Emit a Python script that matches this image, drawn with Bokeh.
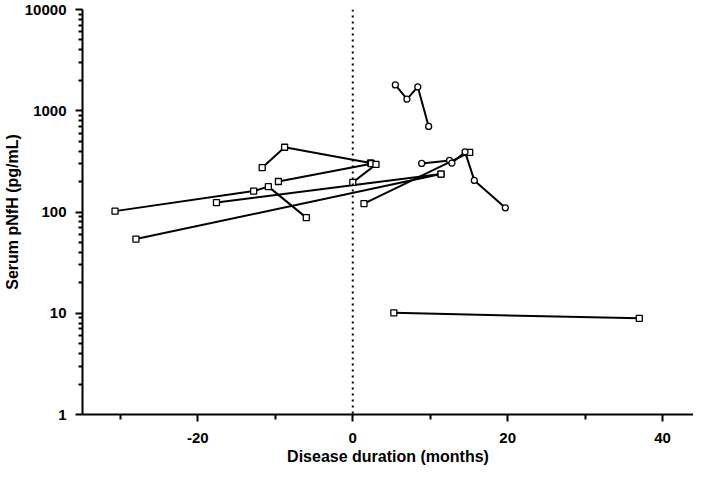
from bokeh.plotting import figure
from bokeh.models import FixedTicker, Span, ColumnDataSource, Range1d
from bokeh.embed import file_html
from bokeh.resources import INLINE

# Square-marker subjects
sq1_x = [-11.7, -8.8, 2.3]
sq1_y = [274, 436, 305]
sq2_x = [-9.6, 2.4]
sq2_y = [200, 300]
sq3_x = [0.0, 3.0]
sq3_y = [196, 295]
sq4_x = [-30.7, -12.8, -10.9, -6.0]
sq4_y = [102, 161, 178, 88]
sq5_x = [-17.6, 11.4]
sq5_y = [124, 237]
sq6_x = [-28.0, 11.4]
sq6_y = [54, 237]
sq7_x = [1.45, 15.1]
sq7_y = [121, 388]
sq8_x = [5.3, 37.0]
sq8_y = [10.1, 8.9]

# Circle-marker subjects
ci1_x = [5.5, 7.0, 8.4, 9.8]
ci1_y = [1800, 1300, 1720, 700]
ci2_x = [8.9, 12.5]
ci2_y = [302, 323]
ci3_x = [12.8, 14.5, 15.7, 19.7]
ci3_y = [304, 392, 205, 110]

x_major = [-20, 0, 20, 40]
x_minor = [-30, -10, 10, 30]
y_major = [1, 10, 100, 1000, 10000]
y_minor = [m * 10 ** d for d in range(4) for m in range(2, 10)]

FONT = "Liberation Sans"

p = figure(width=693, height=470, output_backend="svg", toolbar_location=None,
           y_axis_type="log", x_range=Range1d(-34.9, 44.0), y_range=Range1d(1, 10000),
           min_border_left=77, min_border_right=0, min_border_top=9, min_border_bottom=56)
p.outline_line_color = None
p.grid.visible = False
p.background_fill_color = "white"

p.add_layout(Span(location=0, dimension="height", line_color="black",
                  line_width=2, line_dash="2 4"))

square_sets = [(sq1_x, sq1_y), (sq2_x, sq2_y), (sq3_x, sq3_y), (sq4_x, sq4_y),
               (sq5_x, sq5_y), (sq6_x, sq6_y), (sq7_x, sq7_y), (sq8_x, sq8_y)]
circle_sets = [(ci1_x, ci1_y), (ci2_x, ci2_y), (ci3_x, ci3_y)]

for xs, ys in square_sets + circle_sets:
    src = ColumnDataSource(dict(x=xs, y=ys))
    p.line("x", "y", source=src, line_color="black", line_width=2)
for xs, ys in square_sets:
    src = ColumnDataSource(dict(x=xs, y=ys))
    p.scatter("x", "y", source=src, marker="square", size=6, fill_color="white",
              line_color="black", line_width=1.3)
for xs, ys in circle_sets:
    src = ColumnDataSource(dict(x=xs, y=ys))
    p.scatter("x", "y", source=src, marker="circle", size=6, fill_color="white",
              line_color="black", line_width=1.3)

p.xaxis.ticker = FixedTicker(ticks=x_major, minor_ticks=x_minor)
p.yaxis.ticker = FixedTicker(ticks=y_major, minor_ticks=y_minor)
p.xaxis.major_label_overrides = {v: str(v) for v in x_major}
p.yaxis.major_label_overrides = {v: str(v) for v in y_major}

for ax in (p.xaxis, p.yaxis):
    ax.axis_line_width = 2
    ax.axis_line_color = "black"
    ax.major_tick_line_width = 2
    ax.minor_tick_line_width = 2
    ax.major_tick_line_color = "black"
    ax.minor_tick_line_color = "black"
    ax.major_tick_out = 7
    ax.major_tick_in = 0
    ax.minor_tick_in = 0
    ax.major_label_text_font = FONT
    ax.major_label_text_font_style = "bold"
    ax.major_label_text_font_size = "15px"
    ax.major_label_text_color = "black"
    ax.axis_label_text_font = FONT
    ax.axis_label_text_font_style = "bold"
    ax.axis_label_text_font_size = "16px"
    ax.axis_label_text_color = "black"

p.xaxis.minor_tick_out = 5
p.yaxis.minor_tick_out = 4
p.xaxis.major_label_standoff = 11
p.yaxis.major_label_standoff = 9
p.xaxis.axis_label = "Disease duration (months)"
p.yaxis.axis_label = "Serum pNfH (pg/mL)"
p.xaxis.axis_label_standoff = 2
p.yaxis.axis_label_standoff = 1

open("out.html", "w").write(file_html(p, INLINE))
